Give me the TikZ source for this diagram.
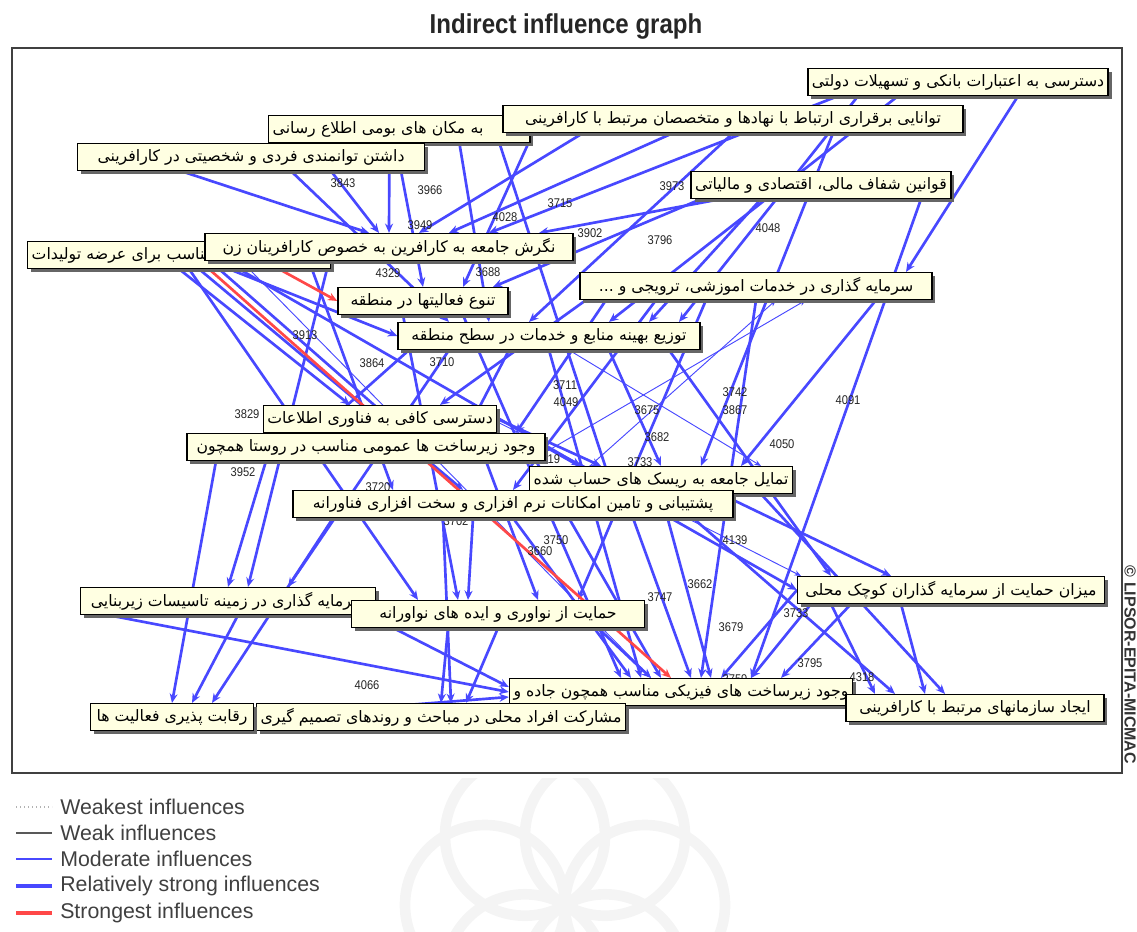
\documentclass[tikz,border=0pt]{standalone}
\usepackage{fontspec}
\setmainfont{Liberation Sans}
\newfontfamily\fa[Script=Arabic]{DejaVu Sans}
\newfontfamily\narrowsf[FakeStretch=0.88]{Liberation Sans}
\TeXXeTstate=1
\usetikzlibrary{arrows.meta,shadows,calc}
\pgfdeclarelayer{bg}
\pgfdeclarelayer{edges}
\pgfdeclarelayer{nums}
\pgfsetlayers{bg,edges,nums,main}
\definecolor{boxfill}{RGB}{255,255,226}
\definecolor{eblue}{RGB}{72,72,255}
\definecolor{ered}{RGB}{255,72,72}
\newcommand\fat[1]{\beginR #1\endR}
\newcommand\edg[5]{\draw[#1] ($(#2)+(#3)$) -- ($(#4)+(#5)$);}
\tikzset{
 lbl/.style={draw=black, line width=1.1pt, fill=boxfill, minimum height=20pt,
   inner xsep=3pt, inner ysep=1pt, font=\fa\fontsize{11.8}{13}\selectfont,
   drop shadow={shadow xshift=2.5pt, shadow yshift=-2.5pt, fill=black!60, opacity=1}},
 edS/.style={draw=eblue, line width=2pt, -{Stealth[length=7pt,width=6pt]}},
 edM/.style={draw=eblue, line width=0.7pt, -{Stealth[length=5pt,width=4pt]}},
 edR/.style={draw=ered, line width=2pt, -{Stealth[length=7pt,width=6pt]}},
 numlbl/.style={font=\narrowsf\fontsize{9.5}{10}\selectfont, text=black!85, inner sep=0pt},
 legtxt/.style={font=\fontsize{16}{18}\selectfont, text=black!75, anchor=west, inner sep=0pt},
}
\begin{document}
\begin{tikzpicture}[x=0.75pt,y=-0.75pt]
\useasboundingbox (0,0) rectangle (1137,931);
% watermark
\begin{pgfonlayer}{bg}
\begin{scope}
\clip (300,778) rectangle (840,931);
\foreach \a in {0,60,...,300}
  \draw[gray!9, line width=8pt] ($(565,905)+(\a:80)$) circle[radius=60pt];
\end{scope}
\end{pgfonlayer}
% title and frame
\node[font=\narrowsf\bfseries\fontsize{20.5}{24}\selectfont, text=black!85] (title) at (566,26) {Indirect influence graph};
\draw[black!75, line width=1pt] (12,48) rectangle (1122,773);
\node[rotate=-90, font=\bfseries\fontsize{12}{14}\selectfont, text=black!80] (copy) at (1130,665) {© LIPSOR-EPITA-MICMAC};
% nodes
\node[lbl, minimum width=225pt] (N1) at (958,82) {\fat{دسترسی به اعتبارات بانکی و تسهیلات دولتی}};
\node[lbl, anchor=west, text width=190pt, align=left] (N3) at (268,129) {\fat{به مکان های بومی  اطلاع رسانی}};
\node[lbl, minimum width=345pt] (N2) at (733,119) {\fat{توانایی برقراری ارتباط با نهادها و متخصصان مرتبط با کارافرینی}};
\node[lbl, minimum width=260pt] (N4) at (251,157) {\fat{داشتن توانمندی فردی و شخصیتی در کارافرینی}};
\node[lbl, minimum width=185pt] (N5) at (821,185) {\fat{قوانین شفاف مالی، اقتصادی و مالیاتی}};
\node[lbl, anchor=west, text width=221pt, align=left] (N7) at (27,255) {\fat{مناسب برای عرضه تولیدات}};
\node[lbl, minimum width=276pt] (N6) at (389,247) {\fat{نگرش جامعه به کارافرین به خصوص کارافرینان زن}};
\node[lbl, minimum width=264pt] (N9) at (756,286) {\fat{سرمایه گذاری در خدمات اموزشی، ترویجی و ...}};
\node[lbl, minimum width=127.5pt] (N8) at (423,301) {\fat{تنوع فعالیتها در منطقه}};
\node[lbl, minimum width=226.5pt] (N10) at (549,336) {\fat{توزیع بهینه منابع و خدمات در سطح منطقه}};
\node[lbl, minimum width=162pt] (N11) at (380,419) {\fat{دسترسی کافی به فناوری اطلاعات}};
\node[lbl, minimum width=268.5pt] (N12) at (366,447) {\fat{وجود زیرساخت ها عمومی مناسب در روستا همچون}};
\node[lbl, minimum width=170pt] (N13) at (661,480) {\fat{تمایل جامعه به ریسک های حساب شده}};
\node[lbl, minimum width=330pt] (N14) at (513,504) {\fat{پشتیبانی و تامین امکانات نرم افزاری و سخت افزاری فناورانه}};
\node[lbl, minimum width=221pt] (N15) at (228,601) {\fat{سرمایه گذاری در زمینه تاسیسات زیربنایی}};
\node[lbl, minimum width=220pt] (N16) at (498,614) {\fat{حمایت از نواوری و ایده های نواورانه}};
\node[lbl, minimum width=230pt] (N17) at (951,590) {\fat{میزان حمایت از سرمایه گذاران کوچک محلی}};
\node[lbl, minimum width=253.5pt] (N18) at (681,692) {\fat{وجود زیرساخت های فیزیکی مناسب همچون جاده و}};
\node[lbl, minimum width=193.5pt] (N19) at (975,708) {\fat{ایجاد سازمانهای مرتبط با کارافرینی}};
\node[lbl, minimum width=275pt] (N20) at (441,717) {\fat{مشارکت افراد محلی در مباحث و روندهای تصمیم گیری}};
\node[lbl, minimum width=122pt] (N21) at (172,717) {\fat{رقابت پذیری فعالیت ها}};
% edges
\begin{pgfonlayer}{edges}
\edg{edS}{N4.south}{80,0}{N6.north}{-10,0}
\edg{edS}{N4.south}{-70,0}{N6.north}{-20,0}
\edg{edS}{N3.south}{-10,0}{N6.north}{0,0}
\edg{edS}{N2.south}{-150,0}{N6.north}{30,0}
\edg{edS}{N2.south}{-60,0}{N6.north}{60,0}
\edg{edS}{N5.south}{-100,0}{N6.north}{150,0}
\edg{edS}{N1.south}{-120,0}{N6.north}{100,0}
\edg{edS}{N1.south}{-60,0}{N10.north}{60,0}
\edg{edS}{N2.south}{0,0}{N10.north}{-20,0}
\edg{edS}{N5.south}{-60,0}{N10.north}{100,0}
\edg{edS}{N3.south}{60,0}{N10.north}{-60,0}
\edg{edS}{N4.south}{150,0}{N8.north}{0,0}
\edg{edS}{N9.south}{-150,0}{N12.north}{150,0}
\edg{edS}{N9.south}{-100,0}{N14.north}{0,0}
\edg{edS}{N9.south}{-50,0}{N16.north}{80,0}
\edg{edS}{N9.south}{0,0}{N18.north}{20,0}
\edg{edS}{N9.south}{-170,0}{N11.north}{60,0}
\edg{edS}{N9.south}{120,0}{N13.north}{80,0}
\edg{edS}{N5.south}{100,0}{N18.north}{70,0}
\edg{edS}{N1.south}{-100,0}{N10.north}{130,0}
\edg{edS}{N2.south}{100,0}{N13.north}{40,0}
\edg{edS}{N1.south}{60,0}{N9.north}{150,0}
\edg{edS}{N7.south}{20,0}{N14.north}{-50,0}
\edg{edS}{N7.south}{40,0}{N12.north}{40,0}
\edg{edS}{N7.south}{10,0}{N16.north}{-80,0}
\edg{edS}{N7.south}{50,0}{N10.west}{0,0}
\edg{edS}{N7.south}{60,0}{N13.north}{-80,0}
\edg{edS}{N7.south}{0,0}{N11.north}{-30,0}
\edg{edS}{N6.south}{-80,0}{N14.north}{-120,0}
\edg{edS}{N6.south}{-60,0}{N15.north}{20,0}
\edg{edS}{N8.south}{-20,0}{N16.north}{-40,0}
\edg{edS}{N8.south}{40,0}{N18.north}{-60,0}
\edg{edS}{N10.south}{-40,0}{N12.north}{100,0}
\edg{edS}{N10.south}{0,0}{N18.north}{-40,0}
\edg{edS}{N10.south}{60,0}{N13.north}{0,0}
\edg{edS}{N10.south}{-100,0}{N15.north}{60,0}
\edg{edS}{N10.south}{120,0}{N17.north}{-120,0}
\edg{edS}{N10.south}{-140,0}{N12.north}{-50,0}
\edg{edS}{N12.south}{-150,0}{N21.north}{0,0}
\edg{edS}{N12.south}{-100,0}{N15.north}{0,0}
\edg{edS}{N12.south}{170,0}{N18.north}{-20,0}
\edg{edS}{N12.south}{120,0}{N16.north}{40,0}
\edg{edS}{N11.east}{0,0}{N13.north}{-60,0}
\edg{edS}{N12.east}{0,0}{N17.west}{0,0}
\edg{edS}{N13.south}{60,0}{N17.north}{-60,0}
\edg{edS}{N13.south}{100,0}{N19.north}{-30,0}
\edg{edS}{N13.south}{0,0}{N18.north}{30,0}
\edg{edS}{N14.south}{0,0}{N18.north}{-50,0}
\edg{edS}{N14.south}{-40,0}{N16.north}{-30,0}
\edg{edS}{N14.south}{-70,0}{N20.north}{10,0}
\edg{edS}{N14.south}{120,0}{N18.north}{10,0}
\edg{edS}{N14.south}{180,0}{N19.north}{-80,0}
\edg{edS}{N14.south}{-180,0}{N21.north}{40,0}
\edg{edS}{N15.south}{140,0}{N18.west}{0,-5}
\edg{edS}{N15.south}{-120,0}{N18.west}{0,0}
\edg{edS}{N16.south}{-50,0}{N20.north}{0,0}
\edg{edS}{N16.south}{0,0}{N20.north}{25,0}
\edg{edS}{N16.south}{100,0}{N18.north}{-30,0}
\edg{edS}{N15.south}{10,0}{N21.north}{20,0}
\edg{edS}{N21.east}{0,0}{N18.west}{0,5}
\edg{edS}{N17.south}{-140,0}{N18.north}{70,0}
\edg{edS}{N17.west}{0,0}{N18.north}{40,0}
\edg{edS}{N17.south}{-100,0}{N18.north}{100,0}
\edg{edS}{N17.south}{-50,0}{N19.north}{-50,0}
\edg{edS}{N17.south}{-120,0}{N19.north}{-100,0}
\edg{edS}{N4.south}{40,0}{N10.north}{-100,0}
\edg{edS}{N3.south}{100,0}{N14.north}{100,0}
\edg{edS}{N2.south}{-200,0}{N8.north}{40,0}
\edg{edS}{N5.south}{-120,0}{N8.north}{70,0}
\edg{edM}{N10.south}{20,0}{N13.north}{100,0}
\edg{edM}{N12.east}{0,5}{N9.south}{50,0}
\edg{edM}{N14.north}{50,0}{N9.south}{20,0}
\edg{edM}{N11.east}{0,3}{N17.north}{-150,0}
\edg{edM}{N7.south}{70,0}{N18.north}{-30,0}
\edg{edR}{N7.south}{30,0}{N18.north}{-10,0}
\edg{edR}{N7.south}{100,0}{N8.west}{0,0}
\end{pgfonlayer}
% influence values
\begin{pgfonlayer}{nums}
\node[numlbl] (v1) at (343,183) {3843};
\node[numlbl] (v2) at (430,190) {3966};
\node[numlbl] (v3) at (560,203) {3715};
\node[numlbl] (v4) at (672,186) {3973};
\node[numlbl] (v5) at (505,217) {4028};
\node[numlbl] (v6) at (420,225) {3949};
\node[numlbl] (v7) at (590,233) {3902};
\node[numlbl] (v8) at (660,240) {3796};
\node[numlbl] (v9) at (768,228) {4048};
\node[numlbl] (v10) at (388,273) {4329};
\node[numlbl] (v11) at (488,272) {3688};
\node[numlbl] (v12) at (305,335) {3913};
\node[numlbl] (v13) at (372,363) {3864};
\node[numlbl] (v14) at (442,362) {3710};
\node[numlbl] (v15) at (565,385) {3711};
\node[numlbl] (v16) at (566,402) {4049};
\node[numlbl] (v17) at (647,410) {3675};
\node[numlbl] (v18) at (735,392) {3742};
\node[numlbl] (v19) at (735,410) {3867};
\node[numlbl] (v20) at (848,400) {4091};
\node[numlbl] (v21) at (657,437) {3682};
\node[numlbl] (v22) at (782,444) {4050};
\node[numlbl] (v23) at (247,414) {3829};
\node[numlbl] (v24) at (548,459) {4119};
\node[numlbl] (v25) at (640,462) {3733};
\node[numlbl] (v26) at (243,472) {3952};
\node[numlbl] (v27) at (378,487) {3720};
\node[numlbl] (v28) at (456,521) {3702};
\node[numlbl] (v29) at (735,540) {4139};
\node[numlbl] (v30) at (556,540) {3750};
\node[numlbl] (v31) at (540,551) {3660};
\node[numlbl] (v32) at (700,584) {3662};
\node[numlbl] (v33) at (660,597) {3747};
\node[numlbl] (v34) at (796,613) {3733};
\node[numlbl] (v35) at (731,627) {3679};
\node[numlbl] (v36) at (810,663) {3795};
\node[numlbl] (v37) at (862,677) {4318};
\node[numlbl] (v38) at (367,685) {4066};
\node[numlbl] (v39) at (735,679) {3759};
\end{pgfonlayer}
% legend
\draw[gray!60, dotted, line width=1pt] (16,807) -- (52,807);
\draw[black!65, line width=1pt] (16,833) -- (52,833);
\draw[eblue, line width=1pt] (16,859) -- (52,859);
\draw[eblue, line width=2.4pt] (16,886) -- (52,886);
\draw[ered, line width=2.4pt] (16,913) -- (52,913);
\node[legtxt] (L1) at (60,807) {Weakest influences};
\node[legtxt] (L2) at (60,833) {Weak influences};
\node[legtxt] (L3) at (60,859) {Moderate influences};
\node[legtxt] (L4) at (60,886) {Relatively strong influences};
\node[legtxt] (L5) at (60,913) {Strongest influences};
\end{tikzpicture}
\end{document}
